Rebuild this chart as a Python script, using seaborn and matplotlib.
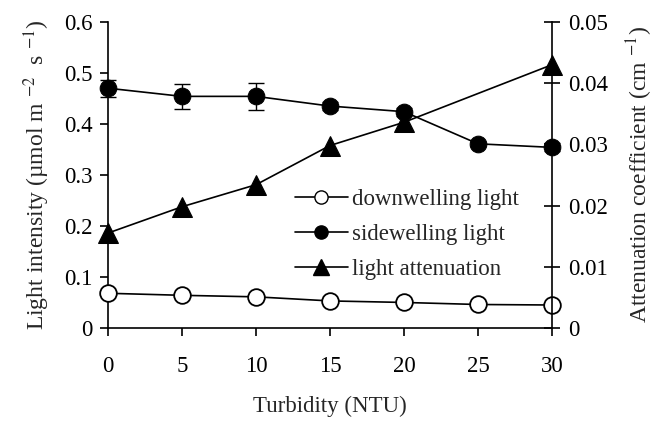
import matplotlib
matplotlib.use("Agg")
import matplotlib.pyplot as plt
import seaborn as sns
import numpy as np
import pandas as pd
from matplotlib.lines import Line2D

# datos
turbidez = [0, 5, 10, 15, 20, 25, 30]
luz_descendente = [0.068, 0.064, 0.061, 0.053, 0.050, 0.046, 0.045]
luz_lateral = [0.470, 0.454, 0.454, 0.435, 0.424, 0.361, 0.354]
err_lateral = [0.017, 0.024, 0.027, 0.008, 0.008, 0.006, 0.008]
# la atenuacion no tiene punto en 25 NTU
turbidez_aten = [0, 5, 10, 15, 20, 30]
atenuacion = [0.0155, 0.0198, 0.0234, 0.0298, 0.0336, 0.0430]

sns.set_style("ticks")
plt.rcParams['font.family'] = ['Liberation Serif', 'DejaVu Serif']
plt.rcParams['mathtext.fontset'] = 'stix'

df = pd.DataFrame({
    'turbidez': turbidez,
    'descendente': luz_descendente,
    'lateral': luz_lateral,
    'err': err_lateral,
})
df_aten = pd.DataFrame({'turbidez': turbidez_aten, 'atenuacion': atenuacion})

fig = plt.figure(figsize=(6.6, 4.21), dpi=100)
ax = fig.add_axes([0.1636, 0.221, 0.6727, 0.727])
ax2 = ax.twinx()

ms = 12
ax.errorbar(df['turbidez'], df['lateral'], yerr=df['err'], fmt='none',
            ecolor='black', elinewidth=1, capsize=5.5, capthick=1, clip_on=False, zorder=2)
sns.lineplot(data=df, x='turbidez', y='lateral', ax=ax, color='black', lw=1.2,
             marker='o', markersize=ms, markerfacecolor='black', markeredgecolor='black',
             clip_on=False, zorder=3)
sns.lineplot(data=df, x='turbidez', y='descendente', ax=ax, color='black', lw=1.2,
             marker='o', markersize=ms, markerfacecolor='white', markeredgecolor='black',
             markeredgewidth=1.3, clip_on=False, zorder=3)
sns.lineplot(data=df_aten, x='turbidez', y='atenuacion', ax=ax2, color='black', lw=1.2,
             marker='^', markersize=ms + 2, markerfacecolor='black', markeredgecolor='black',
             clip_on=False, zorder=3)

ax.set_xlim(0, 30)
ax.set_ylim(0, 0.6)
ax2.set_ylim(0, 0.05)
ax.set_xticks(range(0, 31, 5))
ax.set_yticks(np.arange(0, 0.61, 0.1))
ax.set_yticklabels(['0', '0.1', '0.2', '0.3', '0.4', '0.5', '0.6'])
ax2.set_yticks(np.arange(0, 0.051, 0.01))
ax2.set_yticklabels(['0', '0.01', '0.02', '0.03', '0.04', '0.05'])

for a in (ax, ax2):
    a.spines['top'].set_visible(False)
    for s in a.spines.values():
        s.set_linewidth(1.2)
        s.set_color('black')
ax.spines['right'].set_visible(False)
ax2.spines['left'].set_visible(False)
ax2.spines['bottom'].set_visible(False)

ax.tick_params(axis='both', direction='out', length=6, width=1.2, labelsize=16.5, colors='black')
ax.tick_params(axis='x', pad=14)
ax.tick_params(axis='y', pad=5)
ax2.tick_params(axis='y', direction='inout', length=11, width=1.2, labelsize=16.5, colors='black', pad=6)

ax.set_xlabel('Turbidity (NTU)', fontsize=16.5, labelpad=14)
ax.set_ylabel('Light intensity (µmol m $^{-2}$  s $^{-1}$)', fontsize=17, labelpad=9)
ax2.set_ylabel('Attenuation coefficient (cm $^{-1}$)', fontsize=17, labelpad=12)

handles = [
    Line2D([], [], color='black', lw=1.2, marker='o', markersize=9.5,
           markerfacecolor='white', markeredgecolor='black'),
    Line2D([], [], color='black', lw=1.2, marker='o', markersize=9.5,
           markerfacecolor='black', markeredgecolor='black'),
    Line2D([], [], color='black', lw=1.2, marker='^', markersize=11,
           markerfacecolor='black', markeredgecolor='black'),
]
etiquetas = ['downwelling light', 'sidewelling light', 'light attenuation']
ax.legend(handles, etiquetas, loc='upper left', bbox_to_anchor=(0.421, 0.454),
          frameon=False, fontsize=16.5, handlelength=2.3, handletextpad=0.2,
          labelspacing=0.6, borderaxespad=0, borderpad=0)

fig.savefig('out.png', dpi=100)
